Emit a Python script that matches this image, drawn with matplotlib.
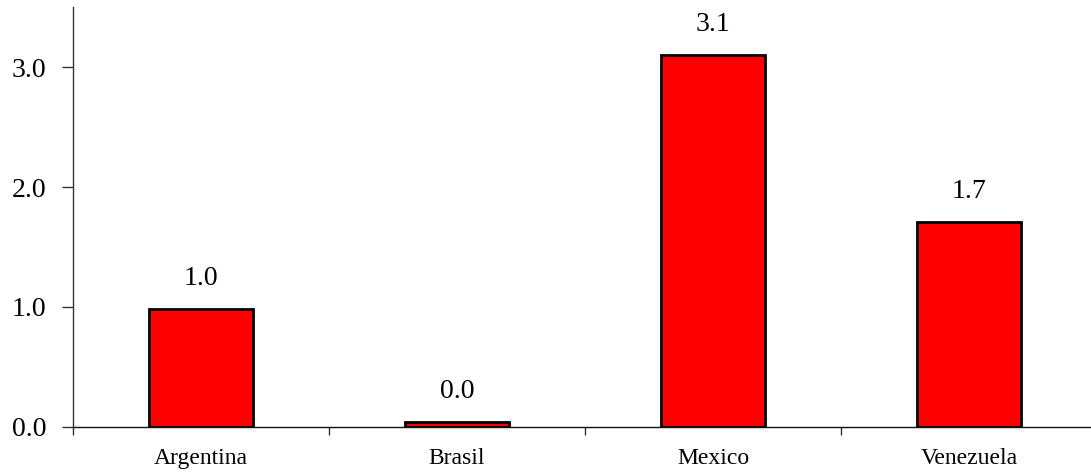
import matplotlib
matplotlib.use("Agg")
import matplotlib.pyplot as plt
import numpy as np

categories = ["Argentina", "Brasil", "Mexico", "Venezuela"]
values = [0.98, 0.04, 3.10, 1.71]
labels = ["1.0", "0.0", "3.1", "1.7"]
yticks = [0.0, 1.0, 2.0, 3.0]

plt.rcParams['font.family'] = ['Liberation Serif', 'DejaVu Serif']

W, H = 1091, 472
fig = plt.figure(figsize=(W / 100, H / 100), dpi=100)
ax = fig.add_axes([73 / W, (H - 427) / H, 1024 / W, 420 / H])

x = np.arange(len(categories))
ax.bar(x, values, width=0.41, color="#ff0000", edgecolor="black", linewidth=2, zorder=3)

for xi, v, lab in zip(x, values, labels):
    ax.annotate(lab, (xi, v), xytext=(0, 24), textcoords="offset pixels",
                ha="center", va="baseline", fontsize=20)

ax.set_xlim(-0.5, 3.5)
ax.set_ylim(0, 3.5)

ax.set_yticks(yticks)
ax.set_yticklabels([f"{t:.1f}" for t in yticks], fontsize=20)
ax.tick_params(axis="y", direction="out", length=8, width=1, pad=11, color="#333333")

ax.set_xticks(x)
ax.set_xticklabels(categories, fontsize=17)
ax.tick_params(axis="x", which="major", length=0, pad=15)
ax.set_xticks([-0.5, 0.5, 1.5, 2.5], minor=True)
ax.tick_params(axis="x", which="minor", direction="out", length=6, width=1, color="#333333")

for s in ["top", "right"]:
    ax.spines[s].set_visible(False)
ax.spines["left"].set_color("#333333")
ax.spines["bottom"].set_color("#111111")
ax.spines["left"].set_linewidth(1)
ax.spines["bottom"].set_linewidth(1)

fig.savefig("out.png", dpi=100)
